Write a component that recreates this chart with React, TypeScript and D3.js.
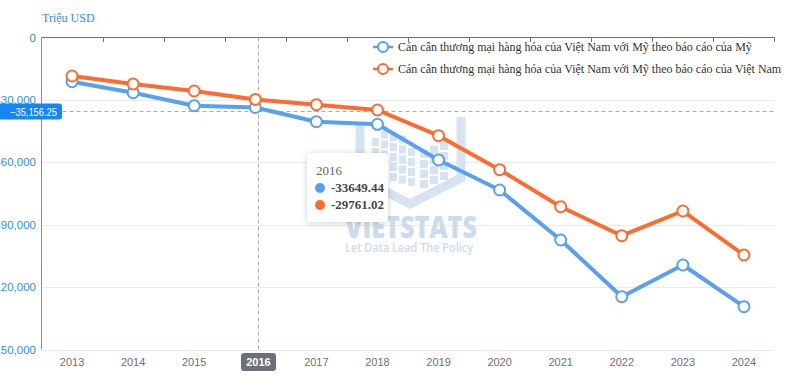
import React from "react";
import * as d3 from "d3";

const years = ["2013","2014","2015","2016","2017","2018","2019","2020","2021","2022","2023","2024"];
const usReport = [-21250,-26540,-32790,-33649.44,-40480,-41730,-58900,-73320,-97360,-124620,-109380,-129430];
const vnReport = [-18510,-22360,-25720,-29761.02,-32310,-34860,-47210,-63560,-81350,-95290,-83420,-104570];
const yTicks = [0,-30000,-60000,-90000,-120000,-150000];
const seriesNames = [
  "Cán cân thương mại hàng hóa của Việt Nam với Mỹ theo báo cáo của Mỹ",
  "Cán cân thương mại hàng hóa của Việt Nam với Mỹ theo báo cáo của Việt Nam",
];
const pointerYear = "2016";
const pointerValue = -35156.25;

const W = 810, H = 385;
const BLUE = "#5a9ff0", ORANGE = "#ff6b2c";
const SERIF = "'Liberation Serif', 'Times New Roman', serif";
const SANS = "'Liberation Sans', Arial, sans-serif";

export default function App() {
  const x = d3.scaleBand<string>().domain(years).range([41.5, 774.5]).padding(0);
  const y = d3.scaleLinear().domain([0, -150000]).range([37.5, 349.5]);
  const cx = (yr: string) => (x(yr) as number) + x.bandwidth() / 2;
  const line = d3.line<number>().x((_, i) => cx(years[i])).y((v) => y(v));
  const series = [
    { name: seriesNames[0], data: usReport, color: BLUE },
    { name: seriesNames[1], data: vnReport, color: ORANGE },
  ];
  const px = Math.round(cx(pointerYear) + 3) + 0.5;
  const py = Math.round(y(pointerValue)) + 0.5;
  const fmt = d3.format(",.2f");
  const wmColor = "#d6e3f0";
  const wmText = "#cddcec";

  const windows: JSX.Element[] = [];
  for (let c = 0; c < 5; c++) {
    for (let r = 0; r < 5; r++) {
      const bx = 372 + c * 9;
      const by = 128 + r * 10 + c * 2.5;
      if (r === 0 && (c === 0 || c === 4)) continue;
      windows.push(<rect key={`l${c}-${r}`} x={bx} y={by} width={7} height={8} fill={wmColor} />);
    }
  }
  for (let c = 0; c < 3; c++) {
    for (let r = 0; r < 4; r++) {
      const bx = 420 + c * 10;
      const by = 150 + r * 10 - c * 4;
      windows.push(<rect key={`r${c}-${r}`} x={bx} y={by} width={8} height={8} fill={wmColor} />);
    }
  }

  return (
    <svg width={W} height={H} style={{ position: "absolute", left: 0, top: 0, background: "#fff" }}>
      <defs>
        <filter id="shadow" x="-20%" y="-20%" width="140%" height="140%">
          <feDropShadow dx="0" dy="1" stdDeviation="3" floodColor="#000" floodOpacity="0.18" />
        </filter>
      </defs>

      <text x={42} y={22} fontFamily={SERIF} fontSize={12} fill="#2f8cf0">Triệu USD</text>

      {yTicks.slice(1).map((t) => (
        <line key={t} x1={41.5} x2={774.5} y1={Math.round(y(t)) + 0.5} y2={Math.round(y(t)) + 0.5} stroke="#e6ebf3" strokeWidth={1} />
      ))}

      <g>
        <path d="M360,124 L360,178 L410,204 L461,178 L461,117" fill="none" stroke={wmColor} strokeWidth={9} strokeLinejoin="miter" />
        {windows}
        <text x={345} y={238} fontFamily="'Open Sans', sans-serif" fontWeight={800} fontSize={30} fill={wmText}
          textLength={132} lengthAdjust="spacingAndGlyphs">VIETSTATS</text>
        <text x={345} y={252} fontFamily="'Open Sans', sans-serif" fontWeight={600} fontSize={12} fill={wmText}
          textLength={128} lengthAdjust="spacingAndGlyphs">Let Data Lead The Policy</text>
      </g>

      {yTicks.map((t) => (
        <text key={t} x={36} y={y(t) + 4} textAnchor="end" fontFamily={SANS} fontSize={11.5} fill="#2f8cf0">
          {d3.format(",")(t).replace("−", "-")}
        </text>
      ))}
      <line x1={41.5} x2={41.5} y1={37.5} y2={349.5} stroke="#4e94ee" strokeWidth={1} />

      <line x1={41.5} x2={774.5} y1={37.5} y2={37.5} stroke="#6e7079" strokeWidth={1} />
      {years.map((yr, i) => i === 0 ? null : (
        <line key={yr} x1={Math.round(x(yr) as number) + 0.5} x2={Math.round(x(yr) as number) + 0.5} y1={37.5} y2={42} stroke="#6e7079" />
      ))}
      <line x1={774.5} x2={774.5} y1={37.5} y2={42} stroke="#6e7079" />

      {years.filter((yr) => yr !== pointerYear).map((yr) => (
        <text key={yr} x={cx(yr)} y={366} textAnchor="middle" fontFamily={SANS} fontSize={11} fill="#6e7079">{yr}</text>
      ))}

      <line x1={px} x2={px} y1={37.5} y2={349.5} stroke="#aaa" strokeDasharray="4,3" />
      <line x1={41.5} x2={774.5} y1={py} y2={py} stroke="#aaa" strokeDasharray="4,3" />
      <rect x={-4} y={py - 8} width={66} height={16} rx={3} fill="#1685f5" />
      <text x={10} y={py + 4} fontFamily={SANS} fontSize={11} fill="#fff" textLength={47} lengthAdjust="spacingAndGlyphs">{fmt(pointerValue)}</text>
      <rect x={px - 17.5} y={353} width={35} height={18} rx={3} fill="#6e7079" />
      <text x={px} y={366} textAnchor="middle" fontFamily={SANS} fontSize={11} fontWeight={700} fill="#fff">{pointerYear}</text>

      {series.map((s) => (
        <g key={s.name}>
          <path d={line(s.data) || ""} fill="none" stroke={s.color} strokeWidth={4} strokeLinejoin="round" />
          {s.data.map((v, i) => (
            <circle key={i} cx={cx(years[i])} cy={y(v)} r={5.5} fill="#fff" stroke={s.color} strokeWidth={2} />
          ))}
        </g>
      ))}

      {series.map((s, i) => {
        const ly = 47 + i * 22;
        return (
          <g key={s.name}>
            <line x1={373} x2={393} y1={ly} y2={ly} stroke={s.color} strokeWidth={2.5} />
            <circle cx={383} cy={ly} r={5} fill="#fff" stroke={s.color} strokeWidth={2} />
            <text x={398} y={ly + 4} fontFamily={SERIF} fontSize={12} fill="#333">{s.name}</text>
          </g>
        );
      })}

      <g>
        <rect x={307} y={153} width={81} height={69} rx={4} fill="#fff" filter="url(#shadow)" />
        <text x={316} y={175} fontFamily={SERIF} fontSize={13} fill="#666">{pointerYear}</text>
        {series.map((s, i) => {
          const ty = 188 + i * 17;
          const idx = years.indexOf(pointerYear);
          return (
            <g key={s.name}>
              <circle cx={320} cy={ty} r={5} fill={s.color} />
              <text x={331} y={ty + 4} fontFamily={SERIF} fontSize={13} fontWeight={700} fill="#464646">{String(s.data[idx])}</text>
            </g>
          );
        })}
      </g>
    </svg>
  );
}
